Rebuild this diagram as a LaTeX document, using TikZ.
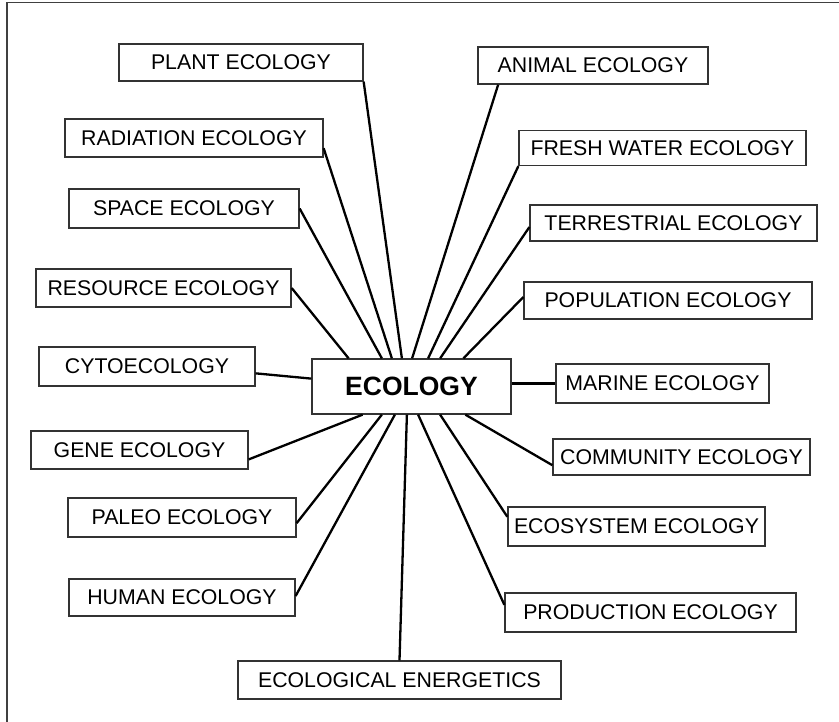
\documentclass[tikz,border=0pt]{standalone}
\usepackage{fontspec}
\setmainfont{Liberation Sans}
\usetikzlibrary{calc}
\tikzset{
  topic/.style={draw=black!80, line width=1.3pt, fill=white, inner sep=0pt,
    font=\fontsize{21.3}{25}\selectfont},
  hub/.style={topic, font=\fontsize{26.5}{30}\bfseries\selectfont},
  link/.style={line width=2.3pt, black},
  frame/.style={draw=black!75, line width=1.3pt}
}
\begin{document}
\begin{tikzpicture}[x=1pt, y=-1pt]
\useasboundingbox (0,0) rectangle (839,722);
% frame: top and left edges only
\draw[frame] (839,2.5) -- (7,2.5) -- (7,722);

% central topic
\node[hub, minimum width=199pt, minimum height=55pt] (eco) at (411.5,386.5) {ECOLOGY};

% left column
\node[topic, minimum width=244pt, minimum height=37pt] (plant) at (241,62.5) {PLANT ECOLOGY};
\node[topic, minimum width=258pt, minimum height=38pt] (radiation) at (194,138) {RADIATION ECOLOGY};
\node[topic, minimum width=230pt, minimum height=39pt] (space) at (184,208.5) {SPACE ECOLOGY};
\node[topic, minimum width=255pt, minimum height=38pt] (resource) at (163.5,288) {RESOURCE ECOLOGY};
\node[topic, minimum width=216pt, minimum height=39pt] (cyto) at (147,366.5) {CYTOECOLOGY};
\node[topic, minimum width=217pt, minimum height=38pt] (gene) at (139.5,450) {GENE ECOLOGY};
\node[topic, minimum width=228pt, minimum height=39pt] (paleo) at (182,517.5) {PALEO ECOLOGY};
\node[topic, minimum width=226pt, minimum height=37pt] (human) at (182,597.5) {HUMAN ECOLOGY};
\node[topic, minimum width=323pt, minimum height=38pt] (energetics) at (399.5,680) {ECOLOGICAL ENERGETICS};

% right column
\node[topic, minimum width=230pt, minimum height=37pt] (animal) at (593,65.5) {ANIMAL ECOLOGY};
\node[topic, minimum width=287pt, minimum height=35pt] (fresh) at (662.5,148) {FRESH WATER ECOLOGY};
\node[topic, minimum width=287pt, minimum height=36pt] (terrestrial) at (673.5,223) {TERRESTRIAL ECOLOGY};
\node[topic, minimum width=288pt, minimum height=37pt] (population) at (668,300.5) {POPULATION ECOLOGY};
\node[topic, minimum width=213pt, minimum height=39pt] (marine) at (662.5,383.5) {MARINE ECOLOGY};
\node[topic, minimum width=257pt, minimum height=36pt] (community) at (681.5,457) {COMMUNITY ECOLOGY};
\node[topic, minimum width=257pt, minimum height=39pt] (ecosystem) at (636.5,526.5) {ECOSYSTEM ECOLOGY};
\node[topic, minimum width=291pt, minimum height=39pt] (production) at (650.5,612.5) {PRODUCTION ECOLOGY};

% connectors into the top edge of the hub
\draw[link] (plant.south east) -- ($(eco.north west)!0.452!(eco.north east)$);
\draw[link] ($(radiation.north east)!0.76!(radiation.south east)$) -- ($(eco.north west)!0.402!(eco.north east)$);
\draw[link] (space.east) -- ($(eco.north west)!0.352!(eco.north east)$);
\draw[link] (resource.east) -- ($(eco.north west)!0.186!(eco.north east)$);
\draw[link] ($(animal.south west)!0.09!(animal.south east)$) -- ($(eco.north west)!0.503!(eco.north east)$);
\draw[link] (fresh.south west) -- ($(eco.north west)!0.583!(eco.north east)$);
\draw[link] ($(terrestrial.north west)!0.61!(terrestrial.south west)$) -- ($(eco.north west)!0.643!(eco.north east)$);
\draw[link] ($(population.north west)!0.41!(population.south west)$) -- ($(eco.north west)!0.759!(eco.north east)$);

% side connectors
\draw[link] ($(cyto.north east)!0.67!(cyto.south east)$) -- ($(eco.north west)!0.36!(eco.south west)$);
\draw[link] (marine.west) -- (marine.west -| eco.east);

% connectors from the bottom edge of the hub
\draw[link] ($(gene.north east)!0.74!(gene.south east)$) -- ($(eco.south west)!0.256!(eco.south east)$);
\draw[link] ($(paleo.north east)!0.64!(paleo.south east)$) -- ($(eco.south west)!0.352!(eco.south east)$);
\draw[link] ($(human.north east)!0.46!(human.south east)$) -- ($(eco.south west)!0.417!(eco.south east)$);
\draw[link] (energetics.north) -- ($(eco.south west)!0.477!(eco.south east)$);
\draw[link] ($(production.north west)!0.31!(production.south west)$) -- ($(eco.south west)!0.533!(eco.south east)$);
\draw[link] ($(ecosystem.north west)!0.26!(ecosystem.south west)$) -- ($(eco.south west)!0.643!(eco.south east)$);
\draw[link] ($(community.north west)!0.72!(community.south west)$) -- ($(eco.south west)!0.769!(eco.south east)$);
\end{tikzpicture}
\end{document}
